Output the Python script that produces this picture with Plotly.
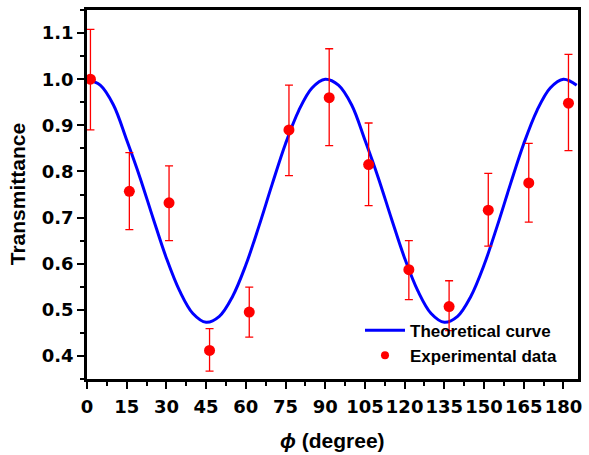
import plotly.graph_objects as go

phi_exp = [1.3, 16.0, 31.0, 46.3, 61.3, 76.3, 91.5, 106.4, 121.6, 136.8, 151.6, 166.9, 181.9]
t_exp = [1.000, 0.757, 0.732, 0.412, 0.495, 0.890, 0.960, 0.815, 0.587, 0.507, 0.716, 0.775, 0.948]
err_plus = [0.108, 0.084, 0.080, 0.047, 0.054, 0.097, 0.106, 0.090, 0.063, 0.056, 0.080, 0.086, 0.106]
err_minus = [0.110, 0.083, 0.082, 0.045, 0.054, 0.099, 0.104, 0.089, 0.065, 0.052, 0.078, 0.085, 0.103]

# Theoretical curve (every 5 degrees)
phi_th = [0, 5, 10, 15, 20, 25, 30, 35, 40, 45, 50, 55, 60, 65, 70, 75, 80, 85, 90,
          95, 100, 105, 110, 115, 120, 125, 130, 135, 140, 145, 150, 155, 160, 165, 170, 175, 180, 185]
t_th = [1.000, 0.987, 0.944, 0.868, 0.787, 0.698, 0.612, 0.541, 0.492, 0.473, 0.486, 0.529, 0.597, 0.682, 0.773, 0.860, 0.932, 0.981, 1.000,
        0.987, 0.944, 0.868, 0.787, 0.698, 0.612, 0.541, 0.492, 0.473, 0.486, 0.529, 0.597, 0.682, 0.773, 0.860, 0.932, 0.981, 1.000, 0.987]

x_ticks = [0, 15, 30, 45, 60, 75, 90, 105, 120, 135, 150, 165, 180]
y_ticks = [0.4, 0.5, 0.6, 0.7, 0.8, 0.9, 1.0, 1.1]

FONT = "Liberation Sans, Arial, sans-serif"
TICKFONT = "DejaVu Sans, sans-serif"

fig = go.Figure()
fig.add_trace(go.Scatter(
    x=phi_th, y=t_th, mode="lines", name="Theoretical curve",
    line=dict(color="#0000ff", width=3, shape="spline", smoothing=1.0),
))
fig.add_trace(go.Scatter(
    x=phi_exp, y=t_exp, mode="markers", name="Experimental data", showlegend=False,
    marker=dict(color="#ff0000", size=11),
    error_y=dict(type="data", symmetric=False, array=err_plus, arrayminus=err_minus,
                 color="#ff0000", thickness=1.3, width=4),
))
# legend entry with a smaller marker, as in the reference
fig.add_trace(go.Scatter(
    x=[None], y=[None], mode="markers", name="Experimental data",
    marker=dict(color="#ff0000", size=8),
))

axis_common = dict(
    showline=True, linecolor="black", linewidth=2.5, mirror=True,
    ticks="outside", tickcolor="black", tickwidth=2, ticklen=7,
    showgrid=False, zeroline=False,
    tickfont=dict(family=TICKFONT, size=18, color="black", weight="bold"),
)

fig.update_xaxes(
    range=[0, 185.5], tickvals=x_ticks, ticktext=[str(v) for v in x_ticks],
    minor=dict(dtick=7.5, tick0=0, ticks="outside", ticklen=4, tickwidth=2, tickcolor="black"),
    ticklabelstandoff=3,
    **axis_common,
)
fig.update_yaxes(
    range=[0.35, 1.15], tickvals=y_ticks, ticktext=[f"{v:.1f}" for v in y_ticks],
    minor=dict(dtick=0.05, tick0=0.35, ticks="outside", ticklen=4, tickwidth=2, tickcolor="black"),
    **axis_common,
)

fig.add_annotation(
    text="<i>ϕ</i> (degree)", xref="paper", yref="paper", x=0.5, y=-0.168,
    xanchor="center", yanchor="middle", showarrow=False,
    font=dict(family=FONT, size=21, color="black", weight="bold"),
)
fig.add_annotation(
    text="Transmittance", xref="paper", yref="paper", x=-0.141, y=0.5,
    xanchor="center", yanchor="middle", showarrow=False, textangle=-90,
    font=dict(family=FONT, size=21, color="black", weight="bold"),
)

fig.update_layout(
    width=589, height=455,
    margin=dict(l=87, r=7, t=9, b=76),
    paper_bgcolor="white", plot_bgcolor="white",
    showlegend=True,
    legend=dict(x=0.556, y=0.18, xanchor="left", yanchor="top",
                bgcolor="rgba(0,0,0,0)", borderwidth=0,
                font=dict(family=FONT, size=17, color="black", weight="bold"),
                tracegroupgap=0, itemwidth=40),
)

fig.write_html("out.html", config={"displayModeBar": False})

# remove the default page margin so the figure sits at the window's corner
with open("out.html", "r", encoding="utf-8") as f:
    html = f.read()
html = html.replace("<head>", "<head><style>html,body{margin:0;padding:0;overflow:hidden;}</style>", 1)
with open("out.html", "w", encoding="utf-8") as f:
    f.write(html)
